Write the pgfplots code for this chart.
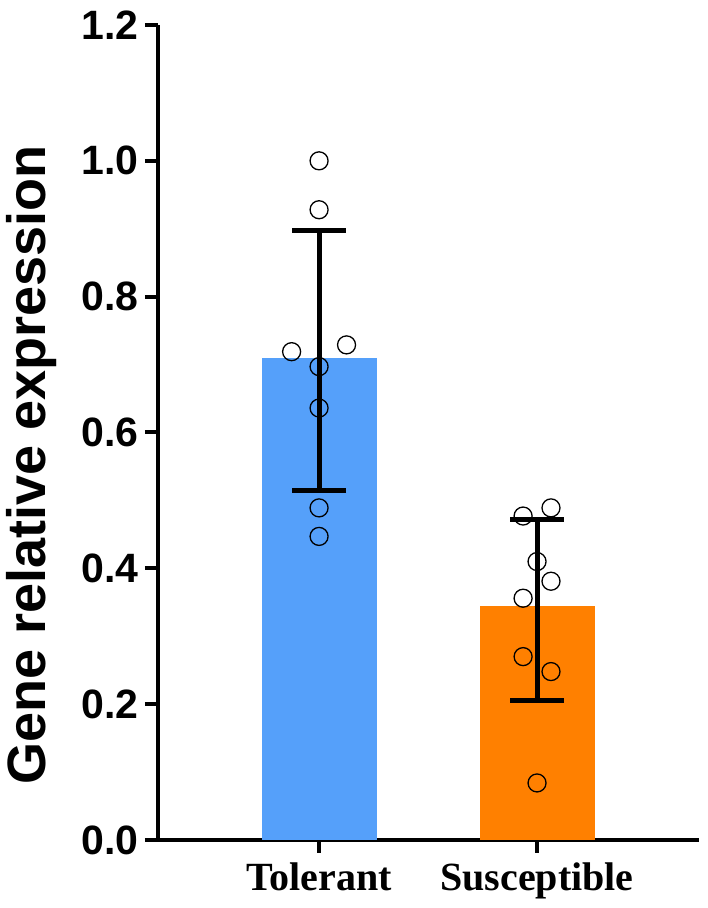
\documentclass[border=0pt]{standalone}
\usepackage{pgfplots}
\pgfplotsset{compat=1.18}
\usepackage{fontspec}
\setmainfont{Liberation Sans}
\newfontfamily\serifb{Liberation Serif}
\definecolor{tolblue}{RGB}{85,160,250}
\definecolor{susorange}{RGB}{255,128,0}
\begin{document}
\begin{tikzpicture}
\begin{axis}[
  scale only axis, width=541pt, height=815pt,
  xmin=-0.739, xmax=1.743, ymin=0, ymax=1.2,
  axis x line=bottom, axis y line=left,
  axis line style={-, line width=4pt, black},
  tick style={line width=4pt, black},
  major tick length=13pt, tick align=outside,
  xtick={0,1}, xticklabels={Tolerant,Susceptible},
  ytick={0,0.2,0.4,0.6,0.8,1.0,1.2},
  /pgf/number format/assume math mode=true,
  yticklabel style={font=\fontsize{41}{41}\selectfont\bfseries, xshift=-3pt, /pgf/number format/.cd, fixed, fixed zerofill, precision=1},
  xticklabel style={font=\serifb\fontsize{40}{40}\selectfont\bfseries, yshift=-6pt},
  ylabel={Gene relative expression},
  ylabel style={font=\fontsize{54}{54}\selectfont\bfseries, at={(axis description cs:0,0.46)}, anchor=center, yshift=126pt},
  clip=false,
]
\addplot[ybar, bar width=115pt, bar shift=0pt, fill=tolblue, draw=none] coordinates {(0,0.710)};
\addplot[ybar, bar width=115pt, bar shift=0pt, fill=susorange, draw=none] coordinates {(1,0.344)};
\addplot[black, only marks, mark=none,
  error bars/.cd, y dir=both, y explicit,
  error bar style={line width=5pt, black},
  error mark options={rotate=90, mark size=27pt, line width=5pt, black}]
  coordinates {(0,0.710) += (0,0.187) -= (0,0.196) (1,0.344) += (0,0.128) -= (0,0.139)};
\addplot[only marks, mark=o, mark size=9pt, mark options={line width=1.3pt, black}] coordinates {
  (0,1.0) (0,0.928) (-0.126,0.719) (0.126,0.729) (0,0.697) (0,0.636) (0,0.489) (0,0.447)
  (0.936,0.477) (1.064,0.489) (1,0.410) (1.064,0.381) (0.936,0.356) (0.936,0.270) (1.064,0.248) (1,0.084)};
\end{axis}
\path (current axis.south west) ++(-158pt,-68pt) rectangle ++(708pt,908pt);
\end{tikzpicture}
\end{document}
